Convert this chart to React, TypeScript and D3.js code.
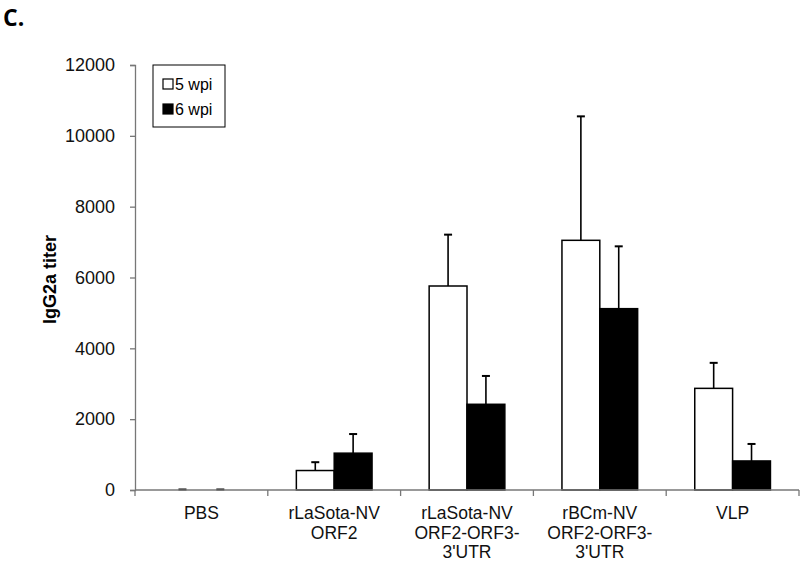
import React, { useEffect, useRef } from 'react';
import * as d3 from 'd3';

const categories = [
  ['PBS'],
  ['rLaSota-NV', 'ORF2'],
  ['rLaSota-NV', 'ORF2-ORF3-', "3'UTR"],
  ['rBCm-NV', 'ORF2-ORF3-', "3'UTR"],
  ['VLP'],
];
const series = ['5 wpi', '6 wpi'];
const wpi5 = [0, 550, 5760, 7050, 2870];
const wpi6 = [0, 1040, 2420, 5120, 820];
const err5 = [0, 235, 1450, 3500, 720];
const err6 = [0, 540, 800, 1760, 480];
const yTicks = [0, 2000, 4000, 6000, 8000, 10000, 12000];

const width = 800;
const height = 564;

const App = () => {
  const svgRef = useRef<SVGSVGElement>(null);

  useEffect(() => {
    if (!svgRef.current) return;
    const svg = d3.select(svgRef.current);
    svg.selectAll('*').remove();

    const left = 135;
    const right = 799;
    const top = 65;
    const bottom = 490;
    const font = 'Arial, "Liberation Sans", sans-serif';

    const x = d3.scaleBand<number>()
      .domain(categories.map((_, i) => i))
      .range([left, right])
      .paddingInner(0.43)
      .paddingOuter(0.215);
    const xs = d3.scaleBand<number>()
      .domain([0, 1])
      .range([0, x.bandwidth()]);
    const y = d3.scaleLinear().domain([0, 12000]).range([bottom, top]);

    // panel letter
    svg.append('text')
      .attr('x', 3)
      .attr('y', 26)
      .attr('font-family', '"Open Sans", Arial, sans-serif')
      .attr('font-weight', 'bold')
      .attr('font-size', 23)
      .text('C.');

    const values = [wpi5, wpi6];
    const errs = [err5, err6];
    const fills = ['white', 'black'];

    values.forEach((vals, s) => {
      const g = svg.append('g');
      // error bars (caps drawn even when the error is zero)
      vals.forEach((v, i) => {
        const cx = x(i)! + xs(s)! + xs.bandwidth() / 2;
        const hi = v + errs[s][i];
        if (errs[s][i]) {
          g.append('line')
            .attr('x1', cx).attr('x2', cx)
            .attr('y1', y(v)).attr('y2', y(hi))
            .attr('stroke', 'black').attr('stroke-width', 1.6);
        }
        g.append('line')
          .attr('x1', cx - 4).attr('x2', cx + 4)
          .attr('y1', y(hi) - (errs[s][i] ? 0 : 0.5)).attr('y2', y(hi) - (errs[s][i] ? 0 : 0.5))
          .attr('stroke', 'black').attr('stroke-width', 2);
      });
      g.selectAll('rect')
        .data(vals.map((v, i) => ({ v, i })).filter(d => d.v > 0))
        .join('rect')
        .attr('x', d => x(d.i)! + xs(s)!)
        .attr('y', d => y(d.v))
        .attr('width', xs.bandwidth())
        .attr('height', d => y(0) - y(d.v))
        .attr('fill', fills[s])
        .attr('stroke', 'black')
        .attr('stroke-width', 1.5);
    });

    // y axis
    const yAxis = svg.append('g')
      .attr('transform', `translate(${left},0)`)
      .call(d3.axisLeft(y).tickValues(yTicks).tickSize(5).tickPadding(15).tickFormat(d3.format('d')));
    yAxis.select('.domain').attr('stroke', '#777').attr('stroke-width', 1.3);
    yAxis.selectAll('.tick line').attr('stroke', '#777').attr('stroke-width', 1.3);
    yAxis.selectAll('text')
      .attr('font-family', font)
      .attr('font-size', 18)
      .attr('fill', '#111');

    // x axis
    const xAxis = svg.append('g').attr('transform', `translate(0,${bottom})`);
    xAxis.append('line')
      .attr('x1', left).attr('x2', right)
      .attr('stroke', '#777').attr('stroke-width', 1.3);
    const boundaries = d3.range(categories.length + 1).map(i => left + i * x.step());
    xAxis.selectAll('.xtick')
      .data(boundaries)
      .join('line')
      .attr('class', 'xtick')
      .attr('x1', d => d).attr('x2', d => d)
      .attr('y1', 0).attr('y2', 6)
      .attr('stroke', '#777').attr('stroke-width', 1.3);

    categories.forEach((lines, i) => {
      const t = xAxis.append('text')
        .attr('text-anchor', 'middle')
        .attr('font-family', font)
        .attr('font-size', 17.5)
        .attr('fill', '#111');
      lines.forEach((line, j) => {
        t.append('tspan')
          .attr('x', x(i)! + x.bandwidth() / 2)
          .attr('y', 29 + j * 19.5)
          .text(line);
      });
    });

    // y label
    svg.append('text')
      .attr('transform', `translate(56,${(top + bottom) / 2 + 2}) rotate(-90)`)
      .attr('text-anchor', 'middle')
      .attr('font-family', font)
      .attr('font-weight', 'bold')
      .attr('font-size', 18)
      .text('IgG2a titer');

    // legend
    const legend = svg.append('g').attr('transform', 'translate(153,65)');
    legend.append('rect')
      .attr('width', 72).attr('height', 62)
      .attr('fill', 'white').attr('stroke', 'black').attr('stroke-width', 1);
    series.forEach((name, i) => {
      legend.append('rect')
        .attr('x', 10).attr('y', 14 + i * 25)
        .attr('width', 10).attr('height', 10)
        .attr('fill', fills[i]).attr('stroke', 'black').attr('stroke-width', 1.2);
      legend.append('text')
        .attr('x', 22).attr('y', 25 + i * 25)
        .attr('font-family', font)
        .attr('font-size', 16)
        .text(name);
    });
  }, []);

  return (
    <svg
      ref={svgRef}
      width={width}
      height={height}
      style={{ position: 'absolute', left: 0, top: 0, background: 'white' }}
    />
  );
};

export default App;
